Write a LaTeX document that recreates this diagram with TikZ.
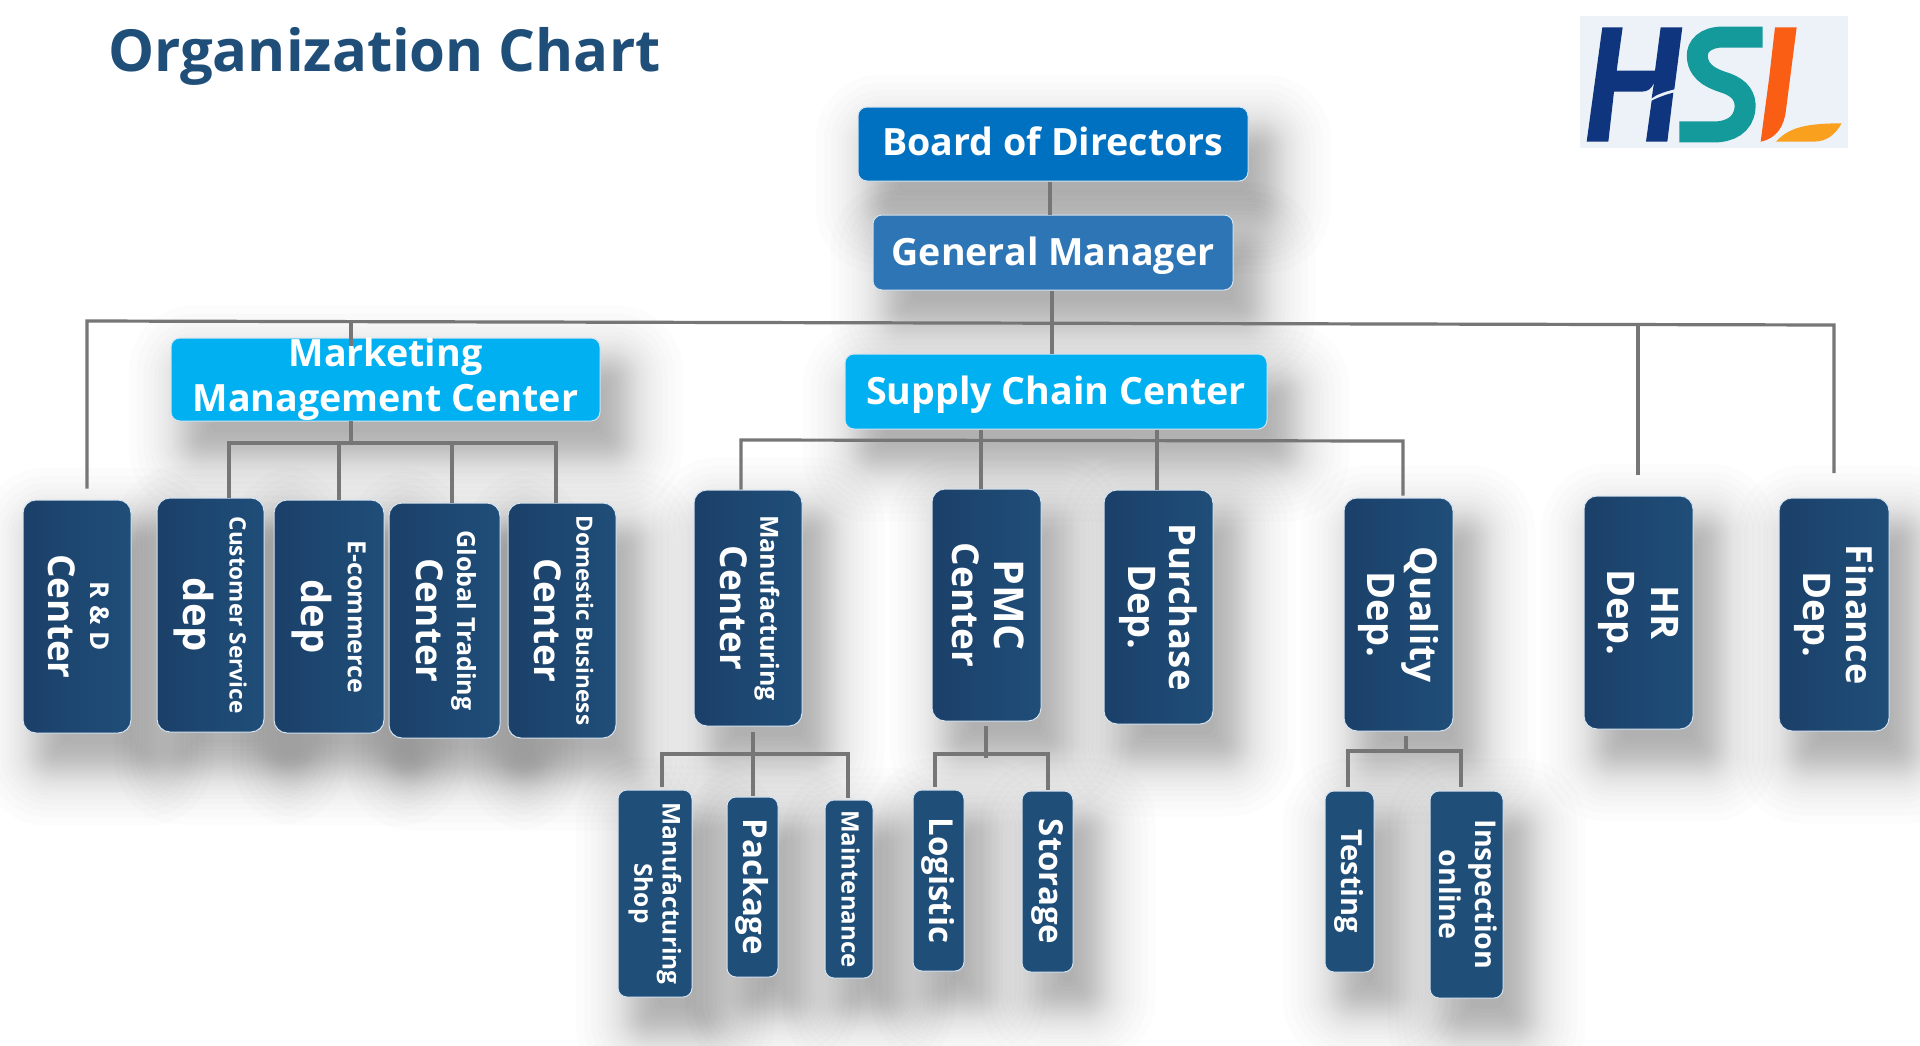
\documentclass[tikz,border=0pt]{standalone}
\usepackage{fontspec}
\usepackage{graphicx}
\setmainfont{Open Sans}
\usetikzlibrary{calc,backgrounds}
\definecolor{navy}{HTML}{1F4E79}
\definecolor{navyd}{HTML}{1B4069}
\definecolor{boardc}{HTML}{0070C0}
\definecolor{gmc}{HTML}{2E75B6}
\definecolor{skyc}{HTML}{00B0F0}
\definecolor{linec}{HTML}{767676}
\definecolor{edgec}{HTML}{D5E3F0}
\definecolor{logobg}{HTML}{EDF2F9}
\newcommand{\fs}[1]{\fontsize{#1}{#1}\selectfont}
\newcommand{\vlab}[1]{\rotatebox[origin=c]{-90}{\begin{tabular}{@{}c@{}}#1\end{tabular}}}
% box given by x1,y1,x2,y2 in reference pixels
\newcommand{\bx}[7][vbox]{\pgfmathsetmacro{\bw}{#5-#3}\pgfmathsetmacro{\bh}{#6-#4}%
  \node[#1,minimum width=\bw pt,minimum height=\bh pt] (#2) at ({(#3+#5)/2},{(#4+#6)/2}) {#7};}
\newcommand{\shad}[1]{\foreach \s in {-20,-16,-12,-9,-6,-3,-1,1,3,5,7,9,11,13,15,17,19,22,25,28,32,36,41,47,54,62}{%
  \fill[black,opacity=.0135,rounded corners={max(6,14+\s/1.2)*1pt}]
   ($(#1.north west)+(20-\s,30-\s)$) rectangle ($(#1.south east)+(20+\s,30+\s)$);}}
\tikzset{
  vbox/.style={draw=edgec,line width=1pt,left color=navyd,right color=navy,rounded corners=13pt,text=white,font=\bfseries,inner sep=0pt,align=center},
  sbox/.style={vbox,rounded corners=9pt,left color=navy,right color=navy},
  hbox/.style={draw=edgec,line width=1pt,rounded corners=9pt,text=white,inner sep=0pt,align=center,font=\fontsize{37.6}{45}\selectfont\bfseries},
  conn/.style={draw=linec,line width=3.2pt,line cap=butt},
}
\begin{document}
\begin{tikzpicture}[x=1pt,y=-1pt]
\useasboundingbox (0,0) rectangle (1920,1045);

\node[anchor=west,text=navy,font=\fontsize{58}{60}\selectfont\bfseries,inner sep=0pt] (title) at (108,56) {Organization Chart};

\bx[hbox,fill=boardc]{board}{858}{107}{1248}{181}{\raisebox{6pt}{Board of Directors}}
\bx[hbox,fill=gmc]{gm}{873}{215}{1233}{290}{\raisebox{-13pt}[0pt][0pt]{General Manager}}
\bx[hbox,fill=skyc]{mk}{171}{338}{600}{421}{Marketing\\[0pt]Management Center}
\bx[hbox,fill=skyc]{sc}{845}{354}{1267}{429}{\raisebox{-13pt}[0pt][0pt]{Supply Chain Center}}

\bx{rd}{23}{500}{131}{733}{\vlab{\fs{26}R \& D\\[12pt]\fs{37}Center}}
\bx{cs}{157}{498}{264}{732}{\vlab{\fs{22.6}Customer Service\\[12pt]\fs{40}dep}}
\bx{ec}{274}{500}{384}{733}{\vlab{\fs{25}E-commerce\\[12pt]\fs{40}dep}}
\bx{gt}{389}{503}{500}{738}{\vlab{\fs{25}Global Trading\\[10pt]\fs{37}Center}}
\bx{db}{508}{503}{616}{738}{\vlab{\fs{22.5}Domestic Business\\[12pt]\fs{37}Center}}
\bx{mc}{694}{490}{802}{726}{\vlab{\fs{25}Manufacturing\\[10pt]\fs{37}Center}}
\bx{pmc}{932}{489}{1041}{721}{\vlab{\fs{41}PMC\\[12pt]\fs{37}Center}}
\bx{pu}{1104}{490}{1213}{724}{\vlab{\fs{36.5}Purchase\\[10pt]\fs{38}Dep.}}
\bx{qu}{1344}{498}{1453}{731}{\vlab{\fs{37}Quality\\[13pt]\fs{38}Dep.}}
\bx{hr}{1584}{496}{1693}{729}{\vlab{\fs{38}HR\\[13pt]\fs{38}Dep.}}
\bx{fi}{1779}{498}{1889}{731}{\vlab{\fs{36}Finance\\[12pt]\fs{38}Dep.}}

\bx[sbox]{ms}{618}{790}{692}{997}{\vlab{\fs{24.5}Manufacturing\\[6pt]\fs{24.5}Shop}}
\bx[sbox]{pk}{727}{797}{778}{977}{\vlab{\fs{33}Package}}
\bx[sbox]{mt}{825}{800}{873}{978}{\vlab{\fs{24}Maintenance}}
\bx[sbox]{lo}{913}{790}{964}{971}{\vlab{\fs{33}Logistic}}
\bx[sbox]{st}{1022}{791}{1073}{972}{\vlab{\fs{33}Storage}}
\bx[sbox]{te}{1325}{791}{1374}{972}{\vlab{\fs{29}Testing}}
\bx[sbox]{in}{1430}{791}{1503}{998}{\vlab{\fs{28.6}Inspection\\[11pt]\fs{28.6}online}}

\begin{pgfonlayer}{background}
\fill[white] (0,0) rectangle (1920,1045);
\clip (0,0) rectangle (1920,1045);
\foreach \n in {board,gm,mk,sc,rd,cs,ec,gt,db,mc,pmc,pu,qu,hr,fi,ms,pk,mt,lo,st,te,in}{\shad{\n}}
\end{pgfonlayer}

% top bus
\coordinate (tL) at (87,321);
\coordinate (tR) at (1834,325);
\coordinate (tM) at (351,322);
\coordinate (tC) at (1052,323);
\coordinate (tH) at (1638,325);
\draw[conn] (rd.north -| tL) ++(0,-11) -- (tL) -- (tR) -- ++(0,148);
\draw[conn] (tM) -- ($(tM |- mk.north)+(0,8)$);
\draw[conn] (tH) -- ($(tH |- hr.north)+(0,-21)$);
\draw[conn] ($(board.south)+(-3,0)$) -- ($(gm.north)+(-3,0)$);
\draw[conn] (tC |- gm.south) -- (tC |- sc.north);

% marketing bus
\coordinate (mA) at (229,443);
\coordinate (mB) at (339,443);
\coordinate (mC) at (452,443);
\coordinate (mD) at (556,443);
\coordinate (mT) at (351,421);
\draw[conn] (mT) -- (mT |- mA);
\draw[conn] (mA |- cs.north) -- (mA) -- (mD) -- (mD |- db.north);
\draw[conn] (mB) -- (mB |- ec.north);
\draw[conn] (mC) -- (mC |- gt.north);

% supply bus
\coordinate (sA) at (741,440);
\coordinate (sB) at (981,440);
\coordinate (sC) at (1157,440);
\coordinate (sD) at (1403,441);
\draw[conn] (sA |- mc.north) -- (sA) -- (sD) -- ($(sD |- qu.north)+(0,-2)$);
\draw[conn] (sB |- sc.south) -- (sB |- pmc.north);
\draw[conn] (sC |- sc.south) -- (sC |- pu.north);

% manufacturing bus
\coordinate (fA) at (662,754);
\coordinate (fB) at (753,754);
\coordinate (fC) at (848,754);
\draw[conn] ($(fB |- mc.south)+(0,5)$) -- ($(fB |- pk.north)+(0,-1)$);
\draw[conn] ($(fA |- ms.north)+(0,-3)$) -- (fA) -- (fC) -- ($(fC |- mt.north)+(0,-2)$);

% PMC bus
\coordinate (pA) at (935,754);
\coordinate (pB) at (986,758);
\coordinate (pC) at (1048,754);
\draw[conn] ($(pB |- pmc.south)+(0,4)$) -- (pB);
\draw[conn] ($(pA |- lo.north)+(0,-3)$) -- (pA) -- (pC) -- ($(pC |- st.north)+(0,-1)$);

% quality bus
\coordinate (qA) at (1348,751);
\coordinate (qB) at (1406,751);
\coordinate (qC) at (1461,751);
\draw[conn] ($(qB |- qu.south)+(0,4)$) -- (qB);
\draw[conn] ($(qA |- te.north)+(0,-4)$) -- (qA) -- (qC) -- ($(qC |- in.north)+(0,-4)$);

% logo
\fill[logobg] (1580,16) rectangle (1848,148);
\begin{scope}[shift={(1540,0)},x=.3333pt,y=-.3333pt]
\fill[fill={rgb,255:red,16;green,53;blue,127}] (187,82) -- (248,82) -- (230,212) -- (345,212) -- (362,82) -- (427,82) -- (403,268) .. controls (375,275) and (350,283) .. (335,295) -- (342,248) .. controls (335,265) and (325,275) .. (305,275) -- (222,275) -- (205,425) -- (140,425) -- cycle;
\fill[fill={rgb,255:red,16;green,53;blue,127}] (335,302) .. controls (355,292) and (380,283) .. (400,278) -- (382,425) -- (318,425) -- cycle;
\draw[line width=21pt,draw={rgb,255:red,21;green,154;blue,156}] (668,111) -- (550,111) .. controls (495,111) and (470,140) .. (472,170) .. controls (475,225) and (530,240) .. (560,250) .. controls (600,265) and (618,290) .. (615,325) .. controls (610,375) and (570,396) .. (520,396) -- (418,396);
\fill[fill={rgb,255:red,249;green,94;blue,20}] (705,82) -- (770,82) -- (738,330) .. controls (732,380) and (710,415) .. (662,425) -- (688,230) -- cycle;
\fill[fill={rgb,255:red,249;green,160;blue,31}] (708,425) .. controls (745,385) and (790,370) .. (905,370) .. controls (885,405) and (860,425) .. (820,425) -- cycle;
\end{scope}
\end{tikzpicture}
\end{document}
